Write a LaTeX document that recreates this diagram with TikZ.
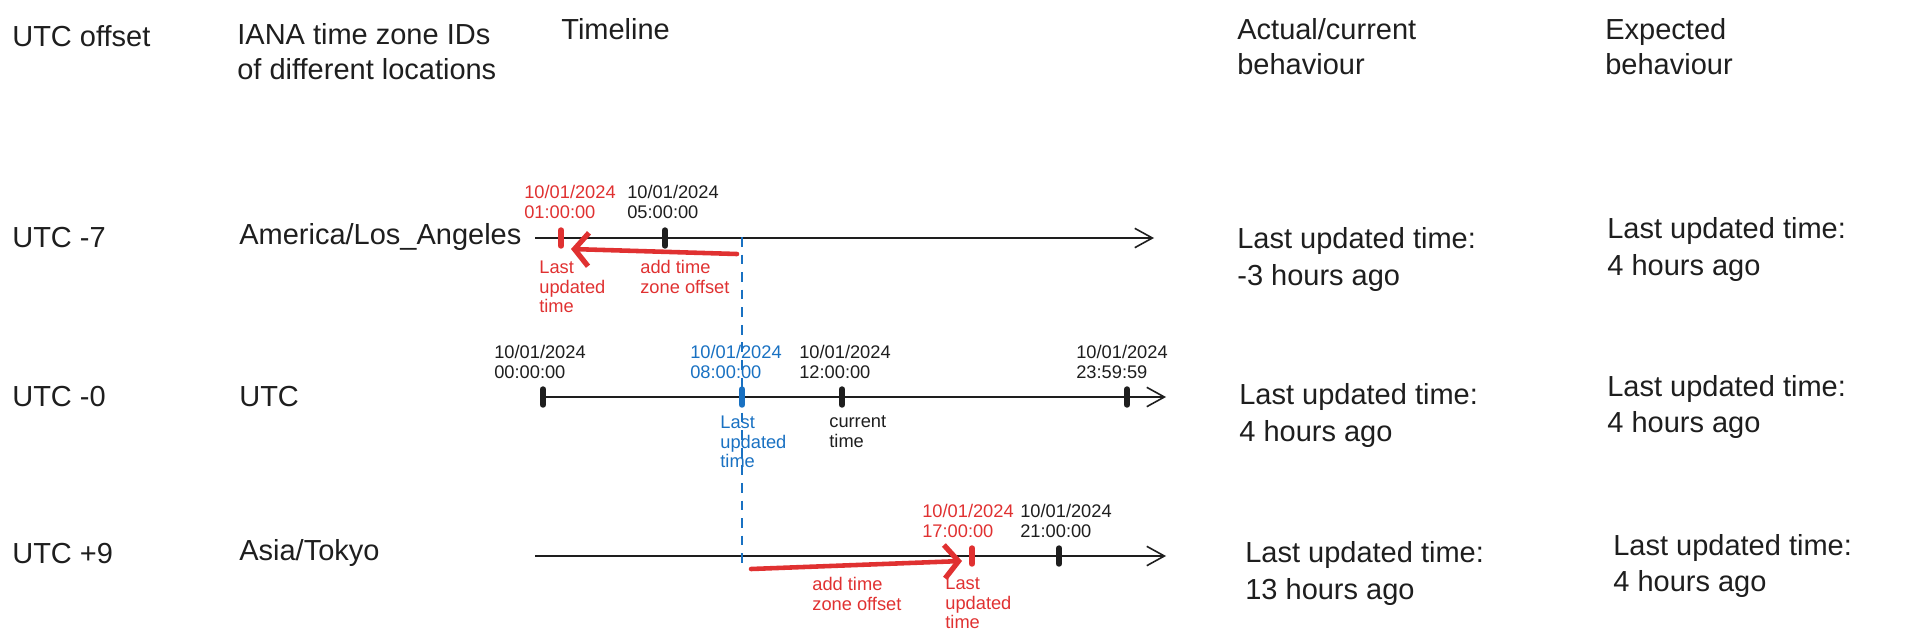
\documentclass[tikz,border=0pt]{standalone}
\usepackage{fontspec}
\setmainfont{Liberation Sans}
\usepackage{tikz}
\usetikzlibrary{arrows.meta, positioning, calc}
\definecolor{inkblack}{RGB}{30,30,30}
\definecolor{inkred}{RGB}{224,49,49}
\definecolor{inkblue}{RGB}{25,113,194}
\tikzset{
  header/.style={anchor=west, align=left, inner sep=0pt,
    font=\fontsize{16.5}{20}\selectfont, color=inkblack},
  result/.style={anchor=west, align=left, inner sep=0pt,
    font=\fontsize{16.5}{21}\selectfont, color=inkblack},
  stamp/.style={align=left, inner sep=0pt,
    font=\fontsize{10.4}{11.4}\selectfont, color=inkblack},
  note/.style={anchor=west, align=left, inner sep=0pt,
    font=\fontsize{10.4}{11.2}\selectfont, color=inkred},
  tickmark/.style={rectangle, rounded corners=1.4pt, fill=inkblack,
    minimum width=3.3pt, minimum height=12pt, inner sep=0pt},
  axis/.style={-{Straight Barb[length=10pt, width=11pt]}, line width=0.9pt, color=inkblack},
  shiftarrow/.style={-{Straight Barb[length=8pt, width=19pt, line width=3pt]}, line width=2.6pt,
    color=inkred, line cap=round},
  nowline/.style={dash pattern=on 5.5pt off 4.5pt, line width=1pt, color=inkblue}
}

\begin{document}
\begin{tikzpicture}[x=0.02cm, y=-0.02cm]
  \useasboundingbox (0,0) rectangle (1905,639);
  % Column headers
  \node[header] (hdr-offset) at (12,36) {UTC offset};
  \node[header] (hdr-iana) at (237,51.5) {IANA time zone IDs\\of different locations};
  \node[header] (hdr-timeline) at (561,29) {Timeline};
  \node[header] (hdr-actual) at (1237,46.5) {Actual/current\\behaviour};
  \node[header] (hdr-expected) at (1605,46.5) {Expected\\behaviour};
  % Row labels
  \node[header] (off-la) at (12,238) {UTC -7};
  \node[header] (off-utc) at (12,397) {UTC -0};
  \node[header] (off-tok) at (12,554) {UTC +9};
  \node[header] (tz-la) at (239,237) {America/Los\_Angeles};
  \node[header] (tz-utc) at (239,397) {UTC};
  \node[header] (tz-tok) at (239,553) {Asia/Tokyo};
  % Timeline axes
  \coordinate (la-a) at (535,238);
  \coordinate (la-b) at (1154,238);
  \coordinate (utc-a) at (543,397);
  \coordinate (utc-b) at (1166,397);
  \coordinate (tok-a) at (535,556);
  \coordinate (tok-b) at (1166,556);
  \draw[axis] (la-a) -- (la-b);
  \draw[axis] (utc-a) -- (utc-b);
  \draw[axis] (tok-a) -- (tok-b);
  % Last updated time in UTC
  \coordinate (now-top) at (742,237);
  \coordinate (now-bot) at (742,566);
  \draw[nowline] (now-top) -- (now-bot);
  % Ticks
  \node[tickmark, fill=inkred] (la-last) at (561,238) {};
  \node[tickmark] (la-now) at (665,238) {};
  \node[tickmark] (utc-start) at (543,397) {};
  \node[tickmark, fill=inkblue] (utc-last) at (742,397) {};
  \node[tickmark] (utc-now) at (842,397) {};
  \node[tickmark] (utc-end) at (1127,397) {};
  \node[tickmark, fill=inkred] (tok-last) at (972,556) {};
  \node[tickmark] (tok-now) at (1059,556) {};
  % Offset arrows
  \coordinate (la-from) at (737,254);
  \coordinate (la-to) at (571,249);
  \coordinate (tok-from) at (751,569);
  \coordinate (tok-to) at (962,561);
  \draw[shiftarrow] (la-from) -- (la-to);
  \draw[shiftarrow] (tok-from) -- (tok-to);
  % Timestamps
  \node[stamp, color=inkred] (la-s1) at (570,201.5) {10/01/2024\\01:00:00};
  \node[stamp] (la-s2) at (673,201.5) {10/01/2024\\05:00:00};
  \node[stamp] (utc-s1) at (540,362) {10/01/2024\\00:00:00};
  \node[stamp, color=inkblue] (utc-s2) at (736,362) {10/01/2024\\08:00:00};
  \node[stamp] (utc-s3) at (845,362) {10/01/2024\\12:00:00};
  \node[stamp] (utc-s4) at (1122,362) {10/01/2024\\23:59:59};
  \node[stamp, color=inkred] (tok-s1) at (968,521) {10/01/2024\\17:00:00};
  \node[stamp] (tok-s2) at (1066,521) {10/01/2024\\21:00:00};
  % Notes under the axes
  \node[note] (la-n1) at (539,287) {Last\\updated\\time};
  \node[note] (la-n2) at (640,277) {add time\\zone offset};
  \node[note, color=inkblue] (utc-n1) at (720,442) {Last\\updated\\time};
  \node[note, color=inkblack] (utc-n2) at (829,431.5) {current\\time};
  \node[note] (tok-n1) at (812,594) {add time\\zone offset};
  \node[note] (tok-n2) at (945,603) {Last\\updated\\time};
  % Behaviour columns
  \node[result] (act-la) at (1237,259.5) {Last updated time:\\-3 hours ago};
  \node[result] (exp-la) at (1607,249.5) {Last updated time:\\4 hours ago};
  \node[result] (act-utc) at (1239,415.5) {Last updated time:\\4 hours ago};
  \node[result] (exp-utc) at (1607,407) {Last updated time:\\4 hours ago};
  \node[result] (act-tok) at (1245,573.5) {Last updated time:\\13 hours ago};
  \node[result] (exp-tok) at (1613,566) {Last updated time:\\4 hours ago};
\end{tikzpicture}
\end{document}
